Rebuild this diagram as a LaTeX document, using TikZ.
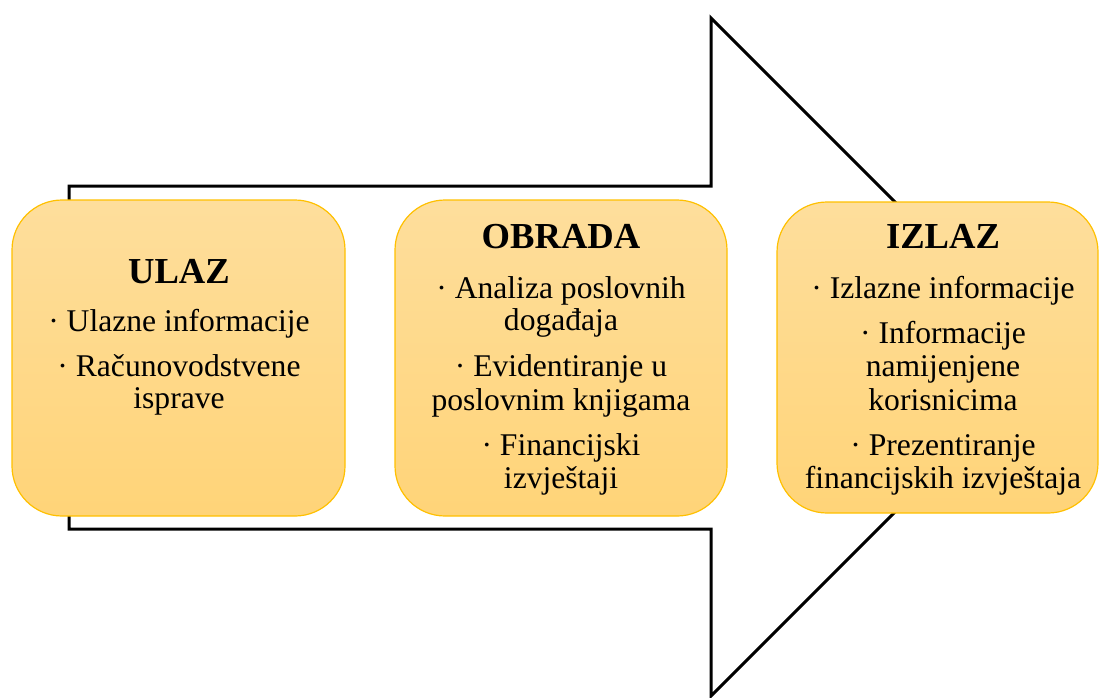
\documentclass[tikz,border=0pt]{standalone}
\usepackage{fontspec}
\setmainfont{Liberation Serif}
\definecolor{boxtop}{RGB}{254,222,156}
\definecolor{boxbot}{RGB}{255,212,120}
\definecolor{boxline}{RGB}{255,192,0}
\begin{document}
\begin{tikzpicture}[x=1pt,y=-1pt,
  box/.style={draw=boxline, line width=1.2pt, rounded corners=50pt, top color=boxtop, bottom color=boxbot, inner sep=0pt},
  title/.style={font=\fontsize{36.6}{40}\selectfont\bfseries, anchor=base, inner sep=0pt},
  item/.style={font=\fontsize{31.6}{33}\selectfont, anchor=base, inner sep=0pt},
  outline/.style={draw=black, line width=3pt, line join=miter}]
\useasboundingbox (0,0) rectangle (1099,697);
% big arrow outline
\draw[outline] (69,186) -- (711,186) -- (711,18) -- (1050,357) -- (711,696) -- (711,529) -- (69,529) -- cycle;
% boxes
\node[box, minimum width=333pt, minimum height=316pt] (b1) at (178.5,358) {};
\node[box, minimum width=332pt, minimum height=316pt] (b2) at (561,358) {};
\node[box, minimum width=321pt, minimum height=311pt] (b3) at (937.5,357.5) {};
% box 1
\node[title] (t1) at (179,283) {ULAZ};
\node[item] (t1a) at (179,331.7) {· Ulazne informacije};
\node[item] (t1b) at (179,376.7) {· Računovodstvene};
\node[item] (t1c) at (179,408) {isprave};
% box 2
\node[title] (t2) at (561,248.3) {OBRADA};
\node[item] (t2a) at (561,298.3) {· Analiza poslovnih};
\node[item] (t2b) at (561,330) {događaja};
\node[item] (t2c) at (561,376.7) {· Evidentiranje u};
\node[item] (t2d) at (561,410) {poslovnim knjigama};
\node[item] (t2e) at (561,455) {· Financijski};
\node[item] (t2f) at (561,488) {izvještaji};
% box 3
\node[title] (t3) at (943,248.3) {IZLAZ};
\node[item] (t3a) at (943,298.3) {· Izlazne informacije};
\node[item] (t3b) at (943,343.3) {· Informacije};
\node[item] (t3c) at (943,376.7) {namijenjene};
\node[item] (t3d) at (943,410) {korisnicima};
\node[item] (t3e) at (943,455) {· Prezentiranje};
\node[item] (t3f) at (943,488) {financijskih izvještaja};
\end{tikzpicture}
\end{document}
